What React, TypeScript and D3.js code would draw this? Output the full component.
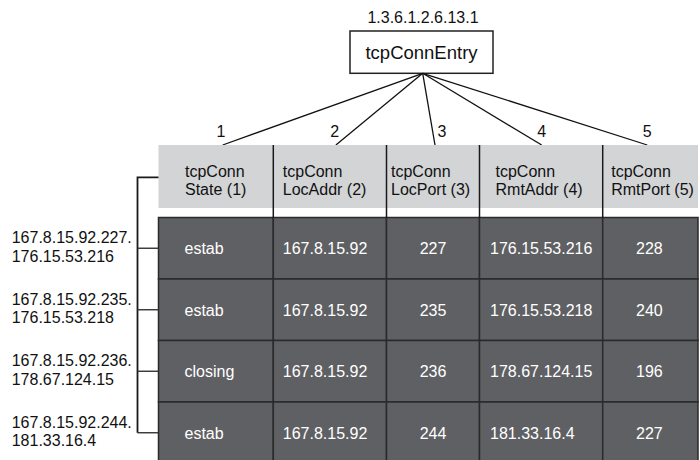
import React from "react";
import * as d3 from "d3";

// table content
const entryOid = "1.3.6.1.2.6.13.1";
const entryName = "tcpConnEntry";
const columnIds = [1, 2, 3, 4, 5];
const headerTop = ["tcpConn", "tcpConn", "tcpConn", "tcpConn", "tcpConn"];
const headerBottom = ["State (1)", "LocAddr (2)", "LocPort (3)", "RmtAddr (4)", "RmtPort (5)"];
const rowIndex = [
  ["167.8.15.92.227.", "176.15.53.216"],
  ["167.8.15.92.235.", "176.15.53.218"],
  ["167.8.15.92.236.", "178.67.124.15"],
  ["167.8.15.92.244.", "181.33.16.4"],
];
const connState = ["estab", "estab", "closing", "estab"];
const locAddr = ["167.8.15.92", "167.8.15.92", "167.8.15.92", "167.8.15.92"];
const locPort = ["227", "235", "236", "244"];
const rmtAddr = ["176.15.53.216", "176.15.53.218", "178.67.124.15", "181.33.16.4"];
const rmtPort = ["228", "240", "196", "227"];

const columnValues = [connState, locAddr, locPort, rmtAddr, rmtPort];

// layout (not data)
const colWidths = [114.8, 113.2, 93, 123.2, 95.3];
const tableLeft = 158.5;
const headerTextDx = [26.5, 9.5, 4.5, 16, 8.5];
const valueMode = [
  { anchor: "start", dx: 26 },
  { anchor: "start", dx: 9.5 },
  { anchor: "middle", dx: 0 },
  { anchor: "start", dx: 10.5 },
  { anchor: "middle", dx: -1 },
];
const lineDx = [6.8, 6, 2, 0.6, -3.1];
const numDx = [-1.7, -1.2, 7, 0, 0];

const FONT = "'Liberation Sans', Arial, Helvetica, sans-serif";
const HEADER_FILL = "#d3d4d6";
const CELL_FILL = "#5f6063";
const CELL_STROKE = "#2a2a2a";

const App = () => {
  const edges = [tableLeft, ...Array.from(d3.cumsum(colWidths), (w) => tableLeft + w)];
  const tableRight = edges[edges.length - 1];

  const rowScale = d3
    .scaleBand<number>()
    .domain(d3.range(rowIndex.length))
    .range([217.5, 463.5]);

  const headerY0 = 145;
  const headerY1 = 208;
  const apex = { x: 422.7, y: 73.3 };
  const box = { x0: 350, x1: 493, y0: 31, y1: 73.3 };

  const bracketX = 137.5;
  const bracketTop = 177.3;
  const rowCenter = (i: number) => (rowScale(i) as number) + rowScale.bandwidth() / 2;

  return (
    <svg
      width={700}
      height={460}
      style={{ position: "absolute", left: 0, top: 0, background: "#fff" }}
      fontFamily={FONT}
    >
      {/* entry node */}
      <text x={(box.x0 + box.x1) / 2 + 1.5} y={23} textAnchor="middle" fontSize={16} fill="#111">
        {entryOid}
      </text>
      <rect
        x={box.x0}
        y={box.y0}
        width={box.x1 - box.x0}
        height={box.y1 - box.y0}
        fill="#fff"
        stroke="#222"
        strokeWidth={1.5}
      />
      <text x={(box.x0 + box.x1) / 2} y={59} textAnchor="middle" fontSize={18.5} fill="#111">
        {entryName}
      </text>

      {/* branches */}
      {columnIds.map((id, i) => {
        const cx = (edges[i] + edges[i + 1]) / 2 + lineDx[i];
        return (
          <g key={`br-${id}`}>
            <line x1={apex.x} y1={apex.y} x2={cx} y2={headerY0} stroke="#111" strokeWidth={1.3} />
            <text x={cx + numDx[i]} y={137} textAnchor="middle" fontSize={16} fill="#111">
              {id}
            </text>
          </g>
        );
      })}

      {/* header */}
      <rect
        x={tableLeft}
        y={headerY0}
        width={tableRight - tableLeft}
        height={headerY1 - headerY0}
        fill={HEADER_FILL}
      />
      {columnIds.map((id, i) => (
        <g key={`hd-${id}`}>
          <text x={edges[i] + headerTextDx[i]} y={176.5} fontSize={16} fill="#111">
            {headerTop[i]}
          </text>
          <text x={edges[i] + headerTextDx[i]} y={194.5} fontSize={16} fill="#111">
            {headerBottom[i]}
          </text>
        </g>
      ))}

      {/* rows */}
      {rowIndex.map((_, r) =>
        columnIds.map((id, c) => {
          const y = rowScale(r) as number;
          const h = rowScale.bandwidth();
          const mode = valueMode[c];
          const tx =
            mode.anchor === "middle" ? (edges[c] + edges[c + 1]) / 2 + mode.dx : edges[c] + mode.dx;
          return (
            <g key={`cell-${r}-${id}`}>
              <rect
                x={edges[c]}
                y={y}
                width={edges[c + 1] - edges[c]}
                height={h}
                fill={CELL_FILL}
                stroke={CELL_STROKE}
                strokeWidth={1.5}
              />
              <text
                x={tx}
                y={y + h / 2 + 5.8}
                textAnchor={mode.anchor as any}
                fontSize={16}
                fill="#fff"
              >
                {columnValues[c][r]}
              </text>
            </g>
          );
        })
      )}

      {/* column dividers through header and gap */}
      {edges.slice(1, -1).map((x, i) => (
        <line key={`dv-${i}`} x1={x} y1={headerY0} x2={x} y2={218} stroke="#1a1a1a" strokeWidth={1.5} />
      ))}

      {/* index bracket */}
      <path
        d={`M${tableLeft},${bracketTop}H${bracketX}V${rowCenter(rowIndex.length - 1)}`}
        fill="none"
        stroke="#1a1a1a"
        strokeWidth={1.8}
      />
      {rowIndex.map((lines, r) => (
        <g key={`idx-${r}`}>
          <line
            x1={bracketX}
            x2={tableLeft}
            y1={rowCenter(r)}
            y2={rowCenter(r)}
            stroke="#333"
            strokeWidth={1.4}
          />
          <text x={11.7} y={rowCenter(r) - 5} fontSize={16} fill="#111">
            {lines[0]}
          </text>
          <text x={11.7} y={rowCenter(r) + 13.5} fontSize={16} fill="#111">
            {lines[1]}
          </text>
        </g>
      ))}
    </svg>
  );
};

export default App;
